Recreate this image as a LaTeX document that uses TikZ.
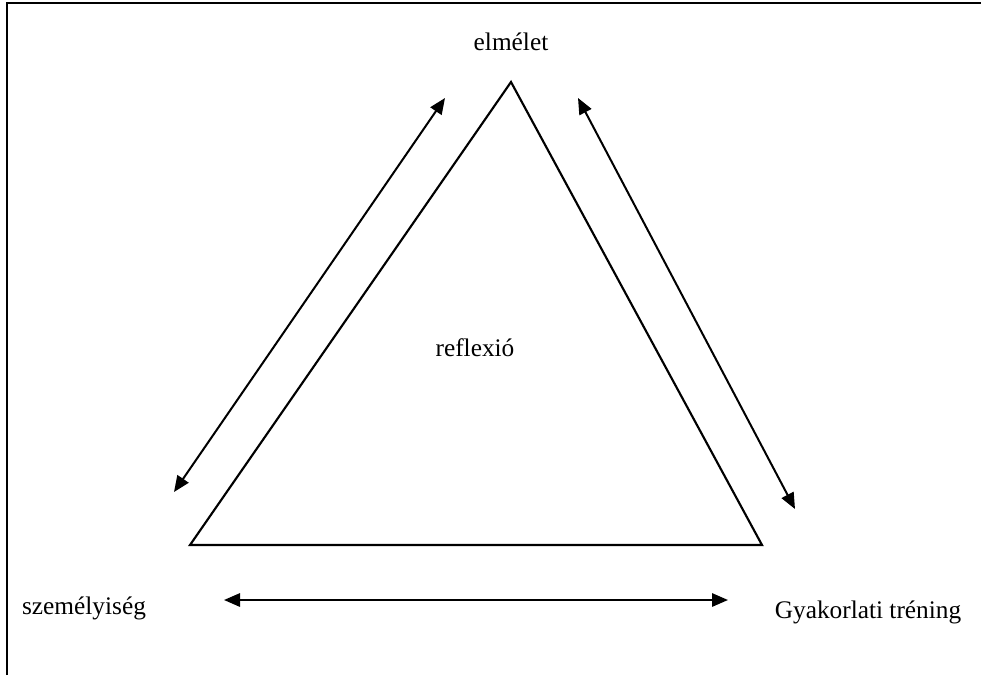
\documentclass[tikz,border=0pt]{standalone}
\usepackage{fontspec}
\setmainfont{Liberation Serif}
\usepackage{tikz}
\usetikzlibrary{arrows.meta}

\begin{document}
\begin{tikzpicture}[
  x=0.75pt, y=-0.75pt,
  lbl/.style={font=\fontsize{19}{22}\selectfont, inner sep=0pt},
  edge/.style={line width=1.6pt, line join=miter},
  arr/.style={line width=1.5pt, {Triangle[length=12pt,width=10pt]}-{Triangle[length=12pt,width=10pt]}}
]
\useasboundingbox (0,0) rectangle (981,675);
\draw[line width=1.6pt] (7,675) -- (7,3) -- (981,3);

\coordinate (top) at (511,82);
\coordinate (left) at (190,545);
\coordinate (right) at (762,545);
\draw[edge] (top) -- (left) -- (right) -- cycle;

\node[lbl] (elm) at (511,42) {elmélet};
\node[lbl] (refl) at (475,348) {reflexió};
\node[lbl] (szem) at (84,608) {személyiség};
\node[lbl] (gyak) at (868,612) {Gyakorlati tréning};

\coordinate (a1) at (174,492);
\coordinate (a2) at (445,98);
\coordinate (b1) at (578,98);
\coordinate (b2) at (795,509);
\coordinate (c1) at (224,600);
\coordinate (c2) at (728,600);
\draw[arr] (a1) -- (a2);
\draw[arr] (b1) -- (b2);
\draw[arr] (c1) -- (c2);
\end{tikzpicture}
\end{document}
